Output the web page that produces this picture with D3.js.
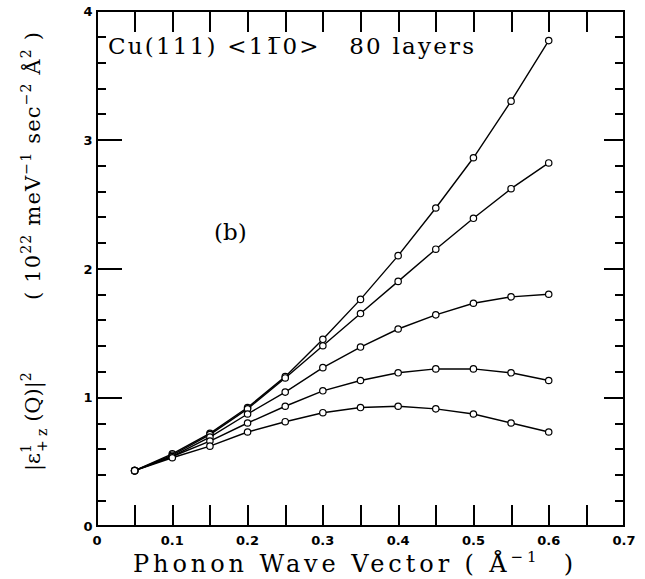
<!DOCTYPE html>
<html>
<head>
<meta charset="utf-8">
<script src="https://cdn.jsdelivr.net/npm/d3@7"></script>
</head>
<body style="margin:0">
<svg id="chart" width="645" height="579"></svg>
<script>
// phonon wave vector (1/Å)
const waveVector = [0.05, 0.1, 0.15, 0.2, 0.25, 0.3, 0.35, 0.4, 0.45, 0.5, 0.55, 0.6];

// |eps|^2 curves, top to bottom at Q = 0.6
const curveA = [0.43, 0.56, 0.72, 0.92, 1.16, 1.45, 1.76, 2.10, 2.47, 2.86, 3.30, 3.77];
const curveB = [0.43, 0.55, 0.71, 0.91, 1.15, 1.40, 1.65, 1.90, 2.15, 2.39, 2.62, 2.82];
const curveC = [0.43, 0.54, 0.69, 0.87, 1.04, 1.23, 1.39, 1.53, 1.64, 1.73, 1.78, 1.80];
const curveD = [0.43, 0.54, 0.66, 0.80, 0.93, 1.05, 1.13, 1.19, 1.22, 1.22, 1.19, 1.13];
const curveE = [0.43, 0.53, 0.62, 0.73, 0.81, 0.88, 0.92, 0.93, 0.91, 0.87, 0.80, 0.73];

const xTickLabels = ["0", "0.1", "0.2", "0.3", "0.4", "0.5", "0.6", "0.7"];
const yTickLabels = ["0", "1", "2", "3", "4"];

const curves = [curveA, curveB, curveC, curveD, curveE];

const svg = d3.select("#chart");
const plotLeft = 97, plotRight = 624, plotTop = 11, plotBottom = 526;

const x = d3.scaleLinear().domain([0, 0.7]).range([plotLeft, plotRight]);
const y = d3.scaleLinear().domain([0, 4]).range([plotBottom, plotTop]);

// frame sides and inward ticks as thin filled rects
const bars = svg.append("g").attr("fill", "#000").attr("shape-rendering", "crispEdges");
const bar = (x0, y0, w, h) => bars.append("rect")
	.attr("x", Math.round(x0)).attr("y", Math.round(y0))
	.attr("width", Math.max(1, Math.round(w))).attr("height", Math.max(1, Math.round(h)));

bar(plotLeft - 1, plotTop - 1, plotRight - plotLeft + 2, 2);
bar(plotLeft - 1, plotBottom - 1, plotRight - plotLeft + 2, 2);
bar(plotLeft - 1, plotTop - 1, 2, plotBottom - plotTop + 2);
bar(plotRight - 1, plotTop - 1, 2, plotBottom - plotTop + 2);

const xTicks = d3.range(1, 14).map(i => i * 0.05);
xTicks.forEach(d => {
	bar(x(d) - 0.5, plotBottom - 21, 1.5, 21);
	bar(x(d) - 0.5, plotTop, 1.5, 21);
});

const yTicks = d3.range(1, 20).map(i => i * 0.2);
yTicks.forEach((d, i) => {
	const major = (i + 1) % 5 === 0;
	bar(plotLeft, y(d) - 0.5, major ? 25 : 9, 1.5);
	bar(plotRight - (major ? 20 : 9), y(d) - 0.5, major ? 20 : 9, 1.5);
});

// curves
const line = d3.line()
	.x((d, i) => x(waveVector[i]))
	.y(d => y(d));

curves.forEach(c => {
	svg.append("path")
		.attr("d", line(c))
		.attr("fill", "none").attr("stroke", "#000").attr("stroke-width", 1.4);
	svg.selectAll(null)
		.data(c).enter().append("circle")
		.attr("cx", (d, i) => x(waveVector[i]))
		.attr("cy", d => y(d))
		.attr("r", 3.2)
		.attr("fill", "#fff").attr("stroke", "#000").attr("stroke-width", 1.2);
});

// tick labels
xTickLabels.forEach((d, i) => {
	svg.append("text")
		.attr("x", x(i * 0.1)).attr("y", 545)
		.attr("text-anchor", "middle")
		.attr("font-family", "DejaVu Sans").attr("font-weight", "bold").attr("font-size", 13)
		.text(d);
});
yTickLabels.forEach((d, i) => {
	svg.append("text")
		.attr("x", 88).attr("y", y(i) + 5)
		.attr("text-anchor", "middle")
		.attr("font-family", "DejaVu Sans").attr("font-weight", "bold").attr("font-size", 13)
		.text(d);
});

// annotations
const serif = "DejaVu Serif";
svg.append("text")
	.attr("x", 108).attr("y", 54)
	.attr("font-family", serif).attr("font-size", 23)
	.attr("textLength", 366).attr("lengthAdjust", "spacing")
	.text("Cu(111) <11\u03050>\u00a0\u00a0 80 layers");

svg.append("text")
	.attr("x", 214).attr("y", 240)
	.attr("font-family", serif).attr("font-size", 23)
	.text("(b)");

// x axis title
const xt = svg.append("text")
	.attr("x", 133).attr("y", 572)
	.attr("font-family", serif).attr("font-size", 24)
	.attr("textLength", 440).attr("lengthAdjust", "spacing");
xt.append("tspan").text("Phonon Wave Vector ( Å");
xt.append("tspan").attr("dy", -10).attr("font-size", 15).text("−1");
xt.append("tspan").attr("dy", 10).text("\u00a0 )");

// y axis title, two parts
const yl1 = svg.append("text")
	.attr("transform", "translate(40,471) rotate(-90)")
	.attr("font-family", serif).attr("font-size", 21);
yl1.append("tspan").text("|ε");
yl1.append("tspan").attr("dy", -9).attr("font-size", 14).text("1");
yl1.append("tspan").attr("dx", -8).attr("dy", 16).attr("font-size", 14).text("+ z");
yl1.append("tspan").attr("dy", -7).text("\u00a0(Q)|");
yl1.append("tspan").attr("dy", -9).attr("font-size", 14).text("2");

const yl2 = svg.append("text")
	.attr("transform", "translate(40,300) rotate(-90)")
	.attr("font-family", serif).attr("font-size", 21)
	.attr("textLength", 268).attr("lengthAdjust", "spacing");
yl2.append("tspan").text("( 10");
yl2.append("tspan").attr("dy", -9).attr("font-size", 14).text("22");
yl2.append("tspan").attr("dy", 9).text("\u00a0meV");
yl2.append("tspan").attr("dy", -9).attr("font-size", 14).text("−1");
yl2.append("tspan").attr("dy", 9).text("\u00a0sec");
yl2.append("tspan").attr("dy", -9).attr("font-size", 14).text("−2");
yl2.append("tspan").attr("dy", 9).text("\u00a0Å");
yl2.append("tspan").attr("dy", -9).attr("font-size", 14).text("2");
yl2.append("tspan").attr("dy", 9).text("\u00a0)");
</script>
</body>
</html>
